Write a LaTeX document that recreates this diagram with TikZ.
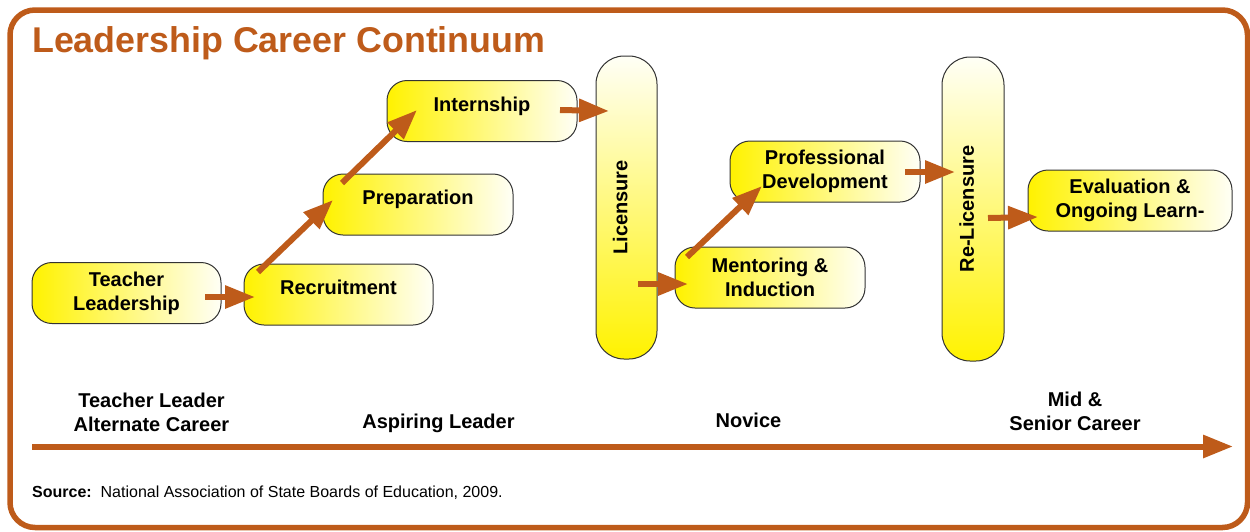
\documentclass[tikz,border=0pt]{standalone}
\usepackage{fontspec}
\setmainfont{Liberation Sans}
\usetikzlibrary{arrows.meta,calc}
\definecolor{rust}{RGB}{190,91,26}
\definecolor{boxyellow}{RGB}{255,242,0}
\definecolor{boxcream}{RGB}{255,255,246}
% vertical text whose baseline sits on the middle of the box
\newcommand{\uptext}[1]{\rotatebox{90}{\rule[-13pt]{0pt}{26pt}#1}}
\begin{document}
\begin{tikzpicture}[x=1pt,y=-1pt,
  pill/.style={draw=black!80, line width=1pt, inner sep=0pt, align=center,
    font=\fontsize{20}{24}\selectfont\bfseries},
  stage/.style={pill, rounded corners=20pt,
    left color=boxyellow, right color=boxcream,
    minimum width=190pt, minimum height=61pt},
  single/.style={text height=13pt, text depth=13pt},
  gate/.style={pill, rounded corners=28pt,
    top color=boxcream, bottom color=boxyellow,
    minimum width=61pt, minimum height=303pt},
  flow/.style={draw=rust, line width=6pt, -{Triangle[length=30pt,width=22pt]}},
  era/.style={font=\fontsize{20}{24}\selectfont\bfseries, align=center, inner sep=0pt}
]
\useasboundingbox (0,0) rectangle (1250,531);

% outer frame and heading
\draw[rust, line width=5.5pt, rounded corners=25pt] (10,10) rectangle (1247.5,527.5);
\node[anchor=base west, inner sep=0pt, text=rust,
  font=\fontsize{35.8}{40}\selectfont\bfseries] (title) at (32,52) {Leadership Career Continuum};

% career stages
\node[stage, minimum width=189pt] (tl) at (126.5,293) {Teacher\\Leadership};
\node[stage, single, minimum width=189pt] (rec) at (338.5,294.5) {Recruitment};
\node[stage, single] (prep) at (418,204.5) {Preparation};
\node[stage, single] (intern) at (482,111) {Internship};
\node[gate] (lic) at (626.5,207.5) {\uptext{Licensure}};
\node[stage] (men) at (770,277.5) {Mentoring \&\\Induction};
\node[stage] (pd) at (825,171.5) {Professional\\Development};
\node[gate, minimum width=62pt, minimum height=304pt] (rel) at (973,209) {\uptext{Re-Licensure}};
\node[stage, minimum width=204pt] (eval) at (1130,200.5) {Evaluation \&\\Ongoing Learn-};

% progression arrows
\draw[flow] ($(tl.center)+(78.5,4)$) -- ($(rec.center)+(-83.5,2.5)$);
\draw[flow] ($(rec.center)+(-80.5,-22.5)$) -- ($(prep.center)+(-85,-4.5)$);
\draw[flow] ($(prep.center)+(-76,-21.5)$) -- ($(intern.center)+(-65,-1)$);
\draw[flow] ($(intern.center)+(78,-1)$) -- ($(lic.center)+(-17.5,-96.5)$);
\draw[flow] ($(lic.center)+(11.5,76.5)$) -- ($(men.center)+(-82,6.5)$);
\draw[flow] ($(men.center)+(-83,-20.5)$) -- ($(pd.center)+(-63,14.5)$);
\draw[flow] ($(pd.center)+(80,0.5)$) -- ($(rel.center)+(-18,-37)$);
\draw[flow] ($(rel.center)+(15,9)$) -- ($(eval.center)+(-92,16.5)$);

% career timeline
\coordinate (t0) at (32,446.5);
\coordinate (t1) at (1233,446.5);
\draw[flow] (t0) -- (t1);
\node[era] (eraTL) at (151.5,412) {Teacher Leader\\Alternate Career};
\node[era, anchor=base] (eraAL) at (438.5,428.5) {Aspiring Leader};
\node[era, anchor=base] (eraNV) at (748.5,427.5) {Novice};
\node[era] (eraMS) at (1075,411) {Mid \&\\Senior Career};

% citation
\node[anchor=base west, inner sep=0pt, font=\fontsize{16}{19}\selectfont] (src) at (32,497)
  {\textbf{Source:}\ \ National Association of State Boards of Education, 2009.};
\end{tikzpicture}
\end{document}
